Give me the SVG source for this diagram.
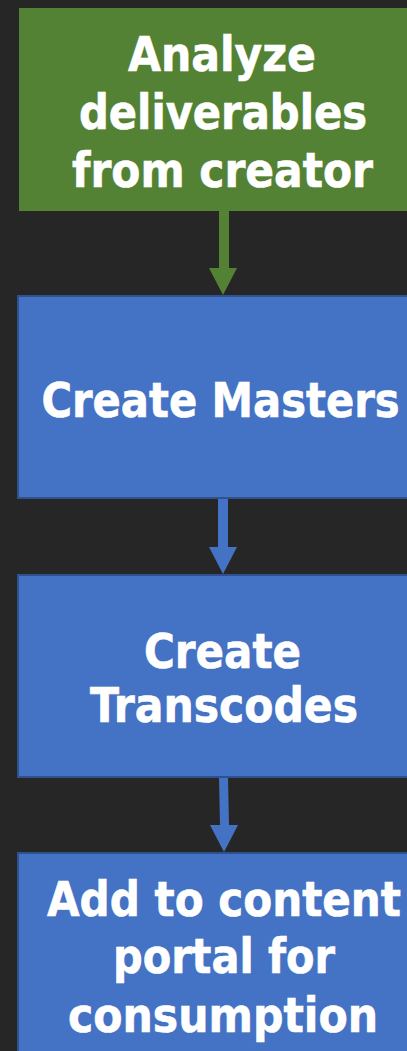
<svg xmlns="http://www.w3.org/2000/svg" width="407" height="1051" viewBox="0 0 407 1051">
<style>
.bg{fill:#262626}
.green{fill:#548235}
.blue{fill:#4472C4;stroke:#2F528F;stroke-width:2}
.t{font-family:"DejaVu Sans Condensed","DejaVu Sans",Verdana,sans-serif;font-weight:bold;font-size:48px;fill:#FFFFFF;stroke:#FFFFFF;stroke-width:0.6;text-anchor:middle}
.ag{fill:#548235}
.ab{fill:#4472C4}
</style>
<rect class="bg" x="0" y="0" width="407" height="1051"/>
<g id="connectors">
<polygon class="ag" points="219,211 229,211 229,268 237,268 223,295 209,268 219,268"/>
<polygon class="ab" points="218,498 228,498 228,547 237,547 223,574 209,547 218,547"/>
<polygon class="ab" points="219,777 228,777 229,825 238,825 224,852 210,825 220,825"/>
</g>
<g id="n1">
<rect class="green" x="19" y="8" width="390" height="203"/>
<text class="t" x="222" y="71" textLength="188" lengthAdjust="spacingAndGlyphs">Analyze</text>
<text class="t" x="223" y="129" textLength="288" lengthAdjust="spacingAndGlyphs">deliverables</text>
<text class="t" x="222.5" y="187" textLength="301" lengthAdjust="spacingAndGlyphs">from creator</text>
</g>
<g id="n2">
<rect class="blue" x="18" y="296" width="391" height="202"/>
<text class="t" x="220.5" y="417" textLength="358" lengthAdjust="spacingAndGlyphs">Create Masters</text>
</g>
<g id="n3">
<rect class="blue" x="18" y="575" width="391" height="202"/>
<text class="t" x="222.5" y="668" textLength="157" lengthAdjust="spacingAndGlyphs">Create</text>
<text class="t" x="224" y="722" textLength="268" lengthAdjust="spacingAndGlyphs">Transcodes</text>
</g>
<g id="n4">
<rect class="blue" x="18" y="853" width="391" height="200"/>
<text class="t" x="224" y="916" textLength="354" lengthAdjust="spacingAndGlyphs">Add to content</text>
<text class="t" x="224" y="973" textLength="222" lengthAdjust="spacingAndGlyphs">portal for</text>
<text class="t" x="223" y="1032" textLength="310" lengthAdjust="spacingAndGlyphs">consumption</text>
</g>
</svg>
